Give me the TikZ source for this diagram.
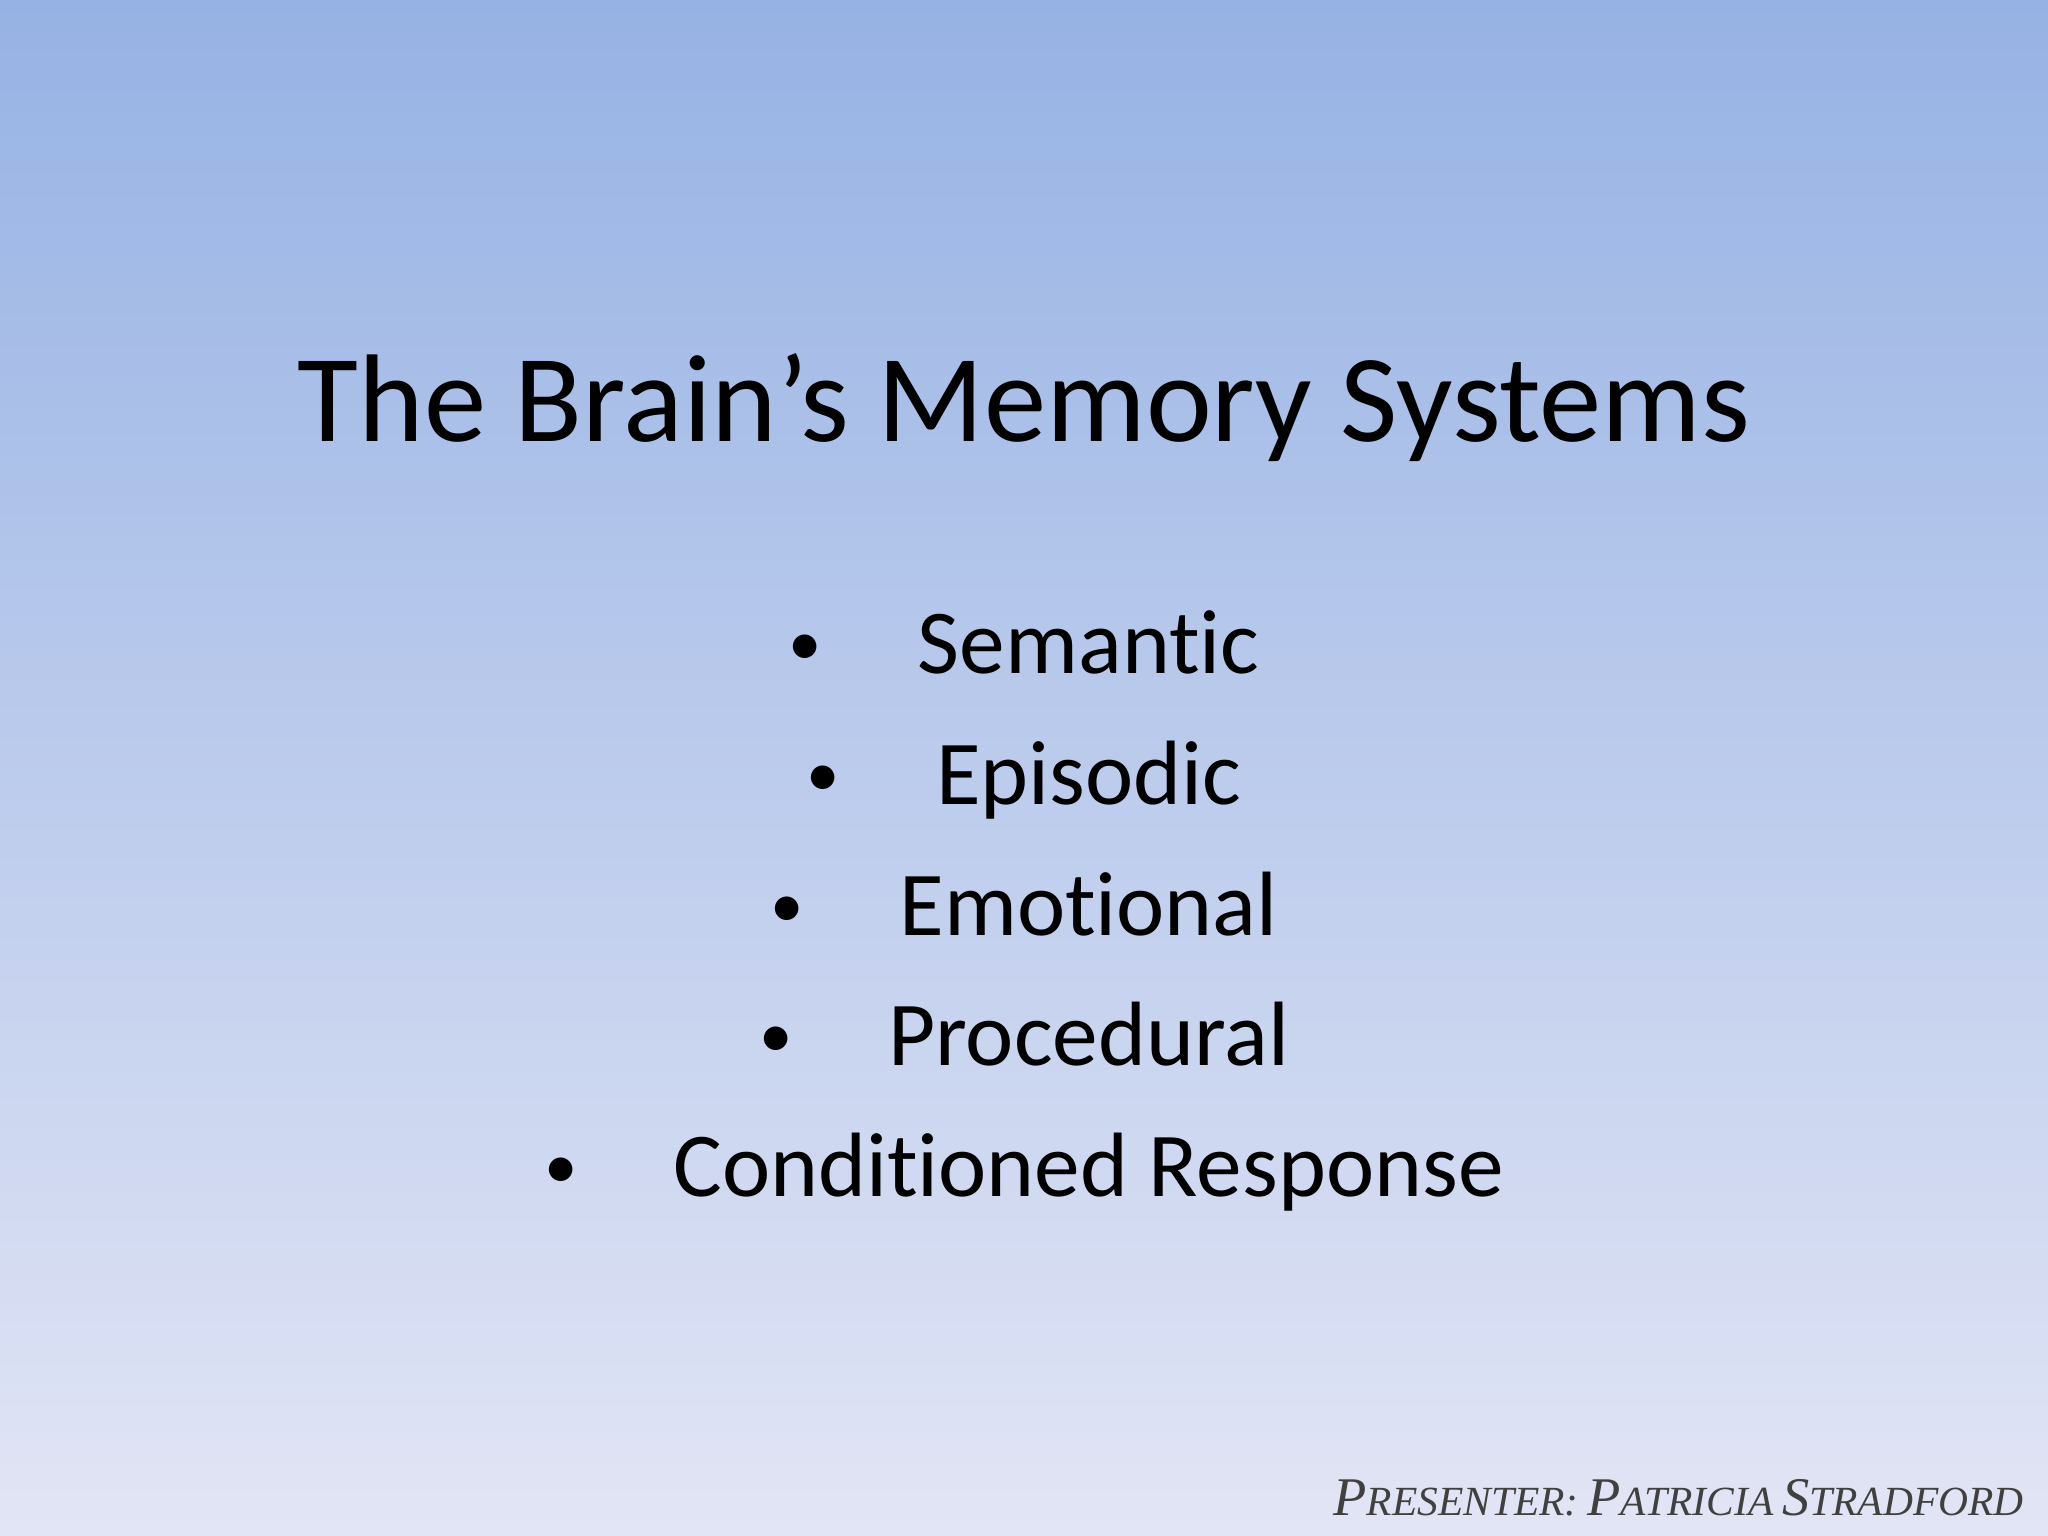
\documentclass[tikz,border=0pt]{standalone}
\usepackage{fontspec}
\setmainfont[Ligatures={NoCommon}]{Carlito}
\newfontfamily\presfont{Liberation Serif}
\definecolor{topc}{RGB}{150,178,228}
\definecolor{botc}{RGB}{226,229,245}
\newcommand{\smc}[2]{{\fontsize{15.5pt}{15.5pt}\selectfont #1}{\fontsize{11.8pt}{11.8pt}\selectfont #2}}
\newcommand{\bul}{{\fontsize{19pt}{19pt}\selectfont\raisebox{0.12em}{•}}\hspace{1.05em}}
\begin{document}
\begin{tikzpicture}[x=0.013061cm,y=-0.013061cm,
  item/.style={anchor=base,font=\fontsize{26pt}{26pt}\selectfont,text=black,inner sep=0pt}]
\shade[top color=topc,bottom color=botc] (0,0) rectangle (1568,1176);
\useasboundingbox (0,0) rectangle (1568,1176);
\node[anchor=base,inner sep=0pt,font=\fontsize{35.5pt}{35.5pt}\selectfont] (title) at (784,338) {The Brain’s Memory Systems};
\node[item] (i1) at (784,516) {\bul Semantic};
\node[item] (i2) at (784,616) {\bul Episodic};
\node[item] (i3) at (784,716) {\bul Emotional};
\node[item] (i4) at (784,816) {\bul Procedural};
\node[item] (i5) at (784,916) {\bul Conditioned Response};
\node[anchor=base east,inner sep=0pt,text=black!75,font=\presfont\itshape] (pres) at (1550,1160)
 {\smc{P}{RESENTER:} \smc{P}{ATRICIA} \smc{S}{TRADFORD}};
\end{tikzpicture}
\end{document}
